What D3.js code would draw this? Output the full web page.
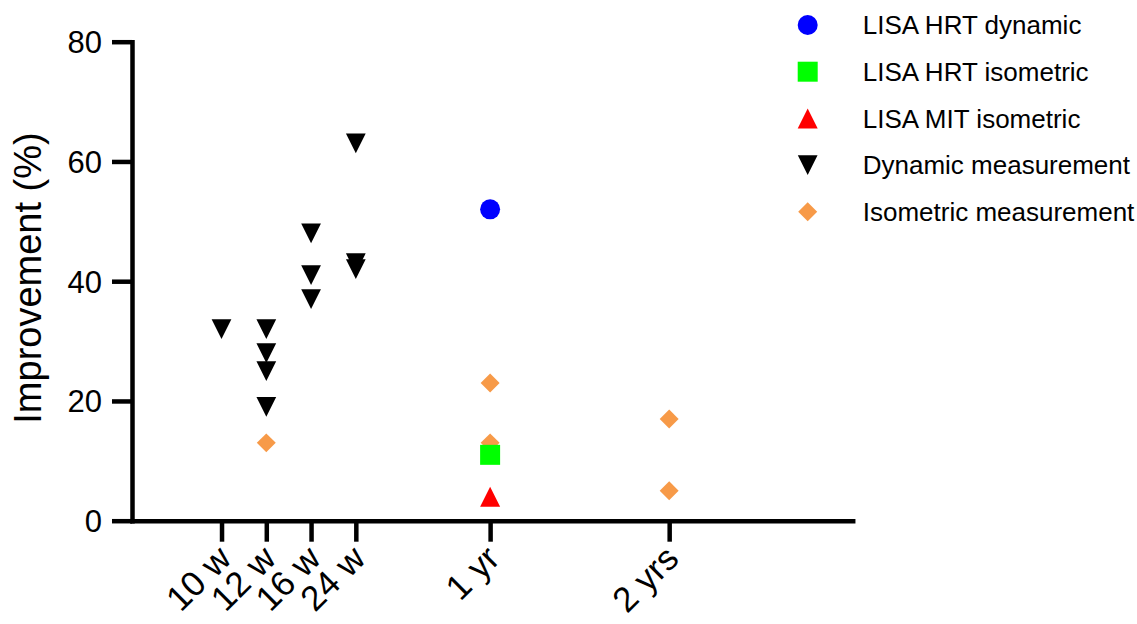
<!DOCTYPE html>
<html>
<head>
<meta charset="utf-8">
<script src="https://cdn.jsdelivr.net/npm/d3@7"></script>
<style>
    body { margin: 0; background: #fff; }
    text { font-family: "Liberation Sans", Arial, sans-serif; fill: #000; }
</style>
</head>
<body>
<div id="myDiv"></div>
<script>
// Time points on the x axis and their x value (GraphPad style spacing)
var timeLabels = ["10 w", "12 w", "16 w", "24 w", "1 yr", "2 yrs"];
var timeSlots = [2, 3, 4, 5, 8, 12];

var yTicks = [0, 20, 40, 60, 80];

// Series values: [time label, improvement %]
var lisaHrtDynamic = [["1 yr", 52]];
var lisaHrtIsometric = [["1 yr", 11]];
var lisaMitIsometric = [["1 yr", 4]];
var dynamicMeasurement = [
    ["10 w", 32],
    ["12 w", 32], ["12 w", 28], ["12 w", 25], ["12 w", 19],
    ["16 w", 48], ["16 w", 41], ["16 w", 37],
    ["24 w", 63], ["24 w", 43], ["24 w", 42]
];
var isometricMeasurement = [
    ["12 w", 13],
    ["1 yr", 23], ["1 yr", 13],
    ["2 yrs", 17], ["2 yrs", 5]
];

var seriesNames = ["LISA HRT dynamic", "LISA HRT isometric", "LISA MIT isometric", "Dynamic measurement", "Isometric measurement"];

// custom triangles (as wide as tall, centred on bounding box)
var triUp = {
    draw: function (ctx, size) {
        var h = Math.sqrt(size) / 2;
        ctx.moveTo(0, -h); ctx.lineTo(h, h); ctx.lineTo(-h, h); ctx.closePath();
    }
};
var triDown = {
    draw: function (ctx, size) {
        var h = Math.sqrt(size) / 2;
        ctx.moveTo(-h, -h); ctx.lineTo(h, -h); ctx.lineTo(0, h); ctx.closePath();
    }
};

var styles = [
    { type: d3.symbolCircle, size: 314, color: "#0000ff", rotate: 0 },
    { type: d3.symbolSquare, size: 400, color: "#00ff00", rotate: 0 },
    { type: triUp, size: 400, color: "#ff0000", rotate: 0 },
    { type: triDown, size: 390, color: "#000000", rotate: 0 },
    { type: d3.symbolSquare, size: 180, color: "#f79a48", rotate: 45 }
];
var allSeries = [lisaHrtDynamic, lisaHrtIsometric, lisaMitIsometric, dynamicMeasurement, isometricMeasurement];

var width = 1137, height = 624;

var svg = d3.select("#myDiv")
    .append("svg")
    .attr("width", width)
    .attr("height", height);

var x = d3.scaleLinear().domain([0, 16.1]).range([132, 852.7]);
var y = d3.scaleLinear().domain([0, 80]).range([520.7, 41.7]);

function slotOf(label) {
    return timeSlots[timeLabels.indexOf(label)];
}

// Y axis
var yAxis = svg.append("g")
    .attr("transform", "translate(132,0)")
    .call(d3.axisLeft(y).tickValues(yTicks).tickSize(20).tickSizeOuter(0).tickPadding(10));

// X axis
var xAxis = svg.append("g")
    .attr("transform", "translate(0,520.7)")
    .call(d3.axisBottom(x).tickValues(timeSlots)
        .tickFormat(function (d, i) { return timeLabels[i]; })
        .tickSize(21).tickSizeOuter(0));

[yAxis, xAxis].forEach(function (ax) {
    ax.select(".domain").attr("stroke", "#000").attr("stroke-width", 4.5).attr("stroke-linecap", "square");
    ax.selectAll(".tick line").attr("stroke", "#000").attr("stroke-width", 4.5);
});

yAxis.selectAll(".tick text")
    .attr("font-size", "31px")
    .attr("dy", "0.35em");

xAxis.selectAll(".tick text")
    .attr("font-size", "35px")
    .attr("text-anchor", "end")
    .attr("y", 0)
    .attr("dy", 0)
    .attr("transform", "translate(11,40) rotate(-45)");

// Y axis title
svg.append("text")
    .attr("transform", "translate(41,278) rotate(-90)")
    .attr("text-anchor", "middle")
    .attr("font-size", "38px")
    .text("Improvement (%)");

// Points, drawn bottom series first so the first series sits on top
for (var s = allSeries.length - 1; s >= 0; s--) {
    var st = styles[s];
    svg.append("g").selectAll("path")
        .data(allSeries[s])
        .enter().append("path")
        .attr("d", d3.symbol().type(st.type).size(st.size))
        .attr("fill", st.color)
        .attr("transform", function (d) {
            return "translate(" + x(slotOf(d[0])) + "," + y(d[1]) + ") rotate(" + st.rotate + ")";
        });
}

// Legend
var legend = svg.append("g").attr("transform", "translate(807.7,25)");
var items = legend.selectAll("g")
    .data(seriesNames)
    .enter().append("g")
    .attr("transform", function (d, i) { return "translate(0," + (i * 46.7) + ")"; });

items.append("path")
    .attr("d", function (d, i) { return d3.symbol().type(styles[i].type).size(styles[i].size)(); })
    .attr("fill", function (d, i) { return styles[i].color; })
    .attr("transform", function (d, i) { return "rotate(" + styles[i].rotate + ")"; });

items.append("text")
    .attr("x", 55)
    .attr("dy", "0.35em")
    .attr("font-size", "26px")
    .text(function (d) { return d; });
</script>
</body>
</html>
